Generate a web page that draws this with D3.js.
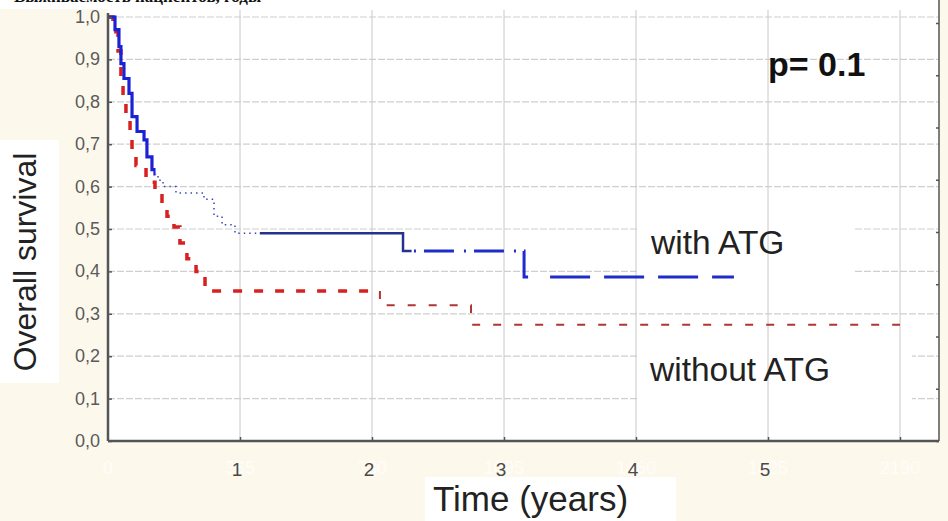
<!DOCTYPE html>
<html>
<head>
<meta charset="utf-8">
<script src="https://cdn.jsdelivr.net/npm/d3@7"></script>
<style>
  body { margin: 0; background: #fdf8ec; }
  svg { display: block; font-family: "Liberation Sans", Arial, sans-serif; }
</style>
</head>
<body>
<script>
// survival curves, time in years
const withAtgTime = [0, 0.053, 0.083, 0.098, 0.121, 0.159, 0.182, 0.220, 0.273, 0.295, 0.333, 0.356, 0.379, 0.417, 0.515, 0.727, 0.803, 0.864, 0.962, 2.235, 3.152, 4.742];
const withAtgSurv = [1.0, 0.97, 0.93, 0.89, 0.855, 0.82, 0.765, 0.73, 0.71, 0.67, 0.64, 0.63, 0.615, 0.60, 0.585, 0.57, 0.53, 0.51, 0.49, 0.448, 0.387, 0.387];

const withoutAtgTime = [0, 0.038, 0.076, 0.098, 0.114, 0.136, 0.167, 0.182, 0.212, 0.288, 0.356, 0.409, 0.447, 0.5, 0.545, 0.598, 0.667, 0.735, 0.765, 2.06, 2.75, 6.0];
const withoutAtgSurv = [1.0, 0.965, 0.92, 0.86, 0.815, 0.77, 0.73, 0.68, 0.65, 0.61, 0.585, 0.56, 0.53, 0.505, 0.467, 0.43, 0.40, 0.365, 0.354, 0.32, 0.274, 0.274];

const yTicks = [0, 0.1, 0.2, 0.3, 0.4, 0.5, 0.6, 0.7, 0.8, 0.9, 1.0];
const xTicks = [1, 2, 3, 4, 5];
const dayLabels = ["0", "365", "730", "1095", "1460", "1825", "2190"];
const rightTicks = [0, 1, 2, 3, 4, 5, 6, 7, 8];

const W = 948, H = 521;
const x = d3.scaleLinear().domain([0, 6]).range([108, 900]);
const y = d3.scaleLinear().domain([0, 1]).range([441, 17]);
const yRight = d3.scaleLinear().domain([0, 8]).range([441, 23]);

const svg = d3.select("body").append("svg")
  .attr("width", W).attr("height", H);

svg.append("rect").attr("width", W).attr("height", H).attr("fill", "#fdf8ec");
// white strip at top (cut title)
svg.append("rect").attr("x", 0).attr("y", 0).attr("width", 300).attr("height", 9).attr("fill", "#fff");
// plot area
svg.append("rect").attr("x", x(0)).attr("y", 0).attr("width", 939 - x(0)).attr("height", y(0)).attr("fill", "#fff");

svg.append("text").attr("x", 14).attr("y", 2)
  .attr("font-family", "Liberation Serif, serif").attr("font-weight", "bold")
  .attr("font-size", 17).attr("fill", "#111")
  .text("Выживаемость пациентов, годы");

// horizontal grid (dashed)
svg.append("g").selectAll("line").data(yTicks.slice(1)).join("line")
  .attr("x1", x(0)).attr("x2", 939)
  .attr("y1", d => y(d)).attr("y2", d => y(d))
  .attr("stroke", "#cfcfcf").attr("stroke-width", 1.2)
  .attr("stroke-dasharray", "7,2");

// white label boxes over the grid
const boxes = [
  [637, 196, 218, 96],
  [637, 342, 275, 66]
];
svg.append("g").selectAll("rect").data(boxes).join("rect")
  .attr("x", d => d[0]).attr("y", d => d[1]).attr("width", d => d[2]).attr("height", d => d[3])
  .attr("fill", "#fff");

// vertical grid
svg.append("g").selectAll("line").data([1, 2, 3, 4, 5, 6]).join("line")
  .attr("x1", d => x(d)).attr("x2", d => x(d))
  .attr("y1", 10).attr("y2", y(0))
  .attr("stroke", "#c8c8c8").attr("stroke-width", 1);

// clip ranges for line styles
const defs = svg.append("defs");
function clip(id, t0, t1) {
  defs.append("clipPath").attr("id", id).append("rect")
    .attr("x", x(t0)).attr("y", 0).attr("width", x(t1) - x(t0)).attr("height", H);
  return `url(#${id})`;
}

const line = d3.line().curve(d3.curveStepAfter)
  .x(d => x(d[0])).y(d => y(d[1]));

const blue = withAtgTime.map((t, i) => [t, withAtgSurv[i]]);
const red = withoutAtgTime.map((t, i) => [t, withoutAtgSurv[i]]);

const curves = svg.append("g").attr("fill", "none");

// without ATG
curves.append("path").attr("d", line(red)).attr("clip-path", clip("r1", 0, 2.0))
  .attr("stroke", "#d82020").attr("stroke-width", 3.5).attr("stroke-dasharray", "9,12");
curves.append("path").attr("d", line(red)).attr("clip-path", clip("r2", 2.0, 6.2))
  .attr("stroke", "#b03535").attr("stroke-width", 2).attr("stroke-dasharray", "8,13");

// with ATG
curves.append("path").attr("d", line(blue)).attr("clip-path", clip("b1", 0, 0.36))
  .attr("stroke", "#1b22d6").attr("stroke-width", 3.2);
curves.append("path").attr("d", line(blue)).attr("clip-path", clip("b2", 0.36, 1.15))
  .attr("stroke", "#3a46b8").attr("stroke-width", 1.5).attr("stroke-dasharray", "1.5,4");
curves.append("path").attr("d", line(blue)).attr("clip-path", clip("b3", 1.15, 2.3))
  .attr("stroke", "#24318f").attr("stroke-width", 2.5);
curves.append("path").attr("d", line(blue)).attr("clip-path", clip("b4", 2.3, 3.25))
  .attr("stroke", "#1f2ccc").attr("stroke-width", 3).attr("stroke-dasharray", "30,10,2,8");
curves.append("path").attr("d", line(blue)).attr("clip-path", clip("b5", 3.25, 5))
  .attr("stroke", "#1f2ccc").attr("stroke-width", 3).attr("stroke-dasharray", "40,14");

// axes
const yAxis = svg.append("g").attr("transform", `translate(${x(0)},0)`)
  .call(d3.axisRight(y).tickValues(yTicks).tickSize(4).tickFormat(""));
yAxis.select(".domain").attr("d", `M0,13V${y(0)}`);
yAxis.selectAll("path,line").attr("stroke", "#555").attr("stroke-width", 1.5);
yAxis.select(".domain").attr("stroke-width", 2.5);

const xAxis = svg.append("g").attr("transform", `translate(0,${y(0)})`)
  .call(d3.axisTop(x).tickValues([1, 2, 3, 4, 5, 6]).tickSize(4).tickFormat(""));
xAxis.select(".domain").attr("d", `M${x(0)},0H939`);
xAxis.selectAll("path,line").attr("stroke", "#555").attr("stroke-width", 1.5);
xAxis.select(".domain").attr("stroke-width", 2.5);

// right frame
const rAxis = svg.append("g").attr("transform", "translate(939,0)")
  .call(d3.axisLeft(yRight).tickValues(rightTicks).tickSize(3).tickFormat(""));
rAxis.select(".domain").attr("d", `M0,0V${y(0)}`);
rAxis.selectAll("path,line").attr("stroke", "#555").attr("stroke-width", 1.5);

// y tick labels
svg.append("g").selectAll("text").data(yTicks).join("text")
  .attr("x", 100).attr("y", d => y(d) + 6)
  .attr("text-anchor", "end").attr("font-size", 18).attr("fill", "#5a5a5a")
  .text(d => d3.format(".1f")(d).replace(".", ","));

// faint day labels
svg.append("g").selectAll("text").data(dayLabels).join("text")
  .attr("x", (d, i) => x(i)).attr("y", 474)
  .attr("text-anchor", "middle").attr("font-size", 18).attr("fill", "#fffdf8")
  .text(d => d);

// year labels
svg.append("g").selectAll("text").data(xTicks).join("text")
  .attr("x", d => x(d) - 3).attr("y", 476)
  .attr("text-anchor", "middle").attr("font-size", 19).attr("fill", "#4a4a4a")
  .text(d => d);

// y title
svg.append("rect").attr("x", 0).attr("y", 140).attr("width", 59).attr("height", 243).attr("fill", "#fff");
svg.append("text").attr("transform", "translate(36,262) rotate(-90)")
  .attr("text-anchor", "middle").attr("font-size", 32).attr("fill", "#222")
  .text("Overall survival");

// x title
svg.append("rect").attr("x", 425).attr("y", 477).attr("width", 251).attr("height", 44).attr("fill", "#fff");
svg.append("text").attr("x", 433).attr("y", 511)
  .attr("font-size", 35).attr("fill", "#222")
  .text("Time (years)");

// annotations
svg.append("text").attr("x", 768).attr("y", 76)
  .attr("font-size", 34).attr("font-weight", "bold").attr("fill", "#111")
  .text("p= 0.1");
svg.append("text").attr("x", 651).attr("y", 254)
  .attr("font-size", 33.5).attr("fill", "#222")
  .text("with ATG");
svg.append("text").attr("x", 650).attr("y", 381)
  .attr("font-size", 33.5).attr("fill", "#222")
  .text("without ATG");
</script>
</body>
</html>
